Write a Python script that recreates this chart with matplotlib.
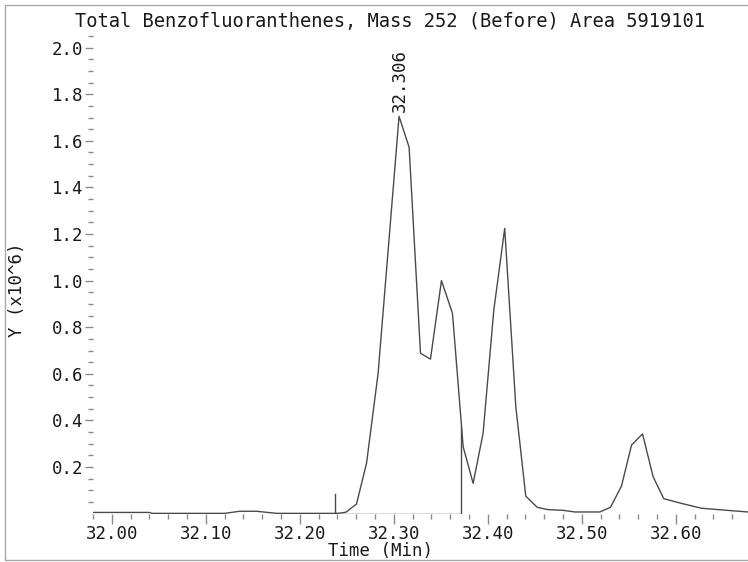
import matplotlib
matplotlib.use("Agg")
import matplotlib.pyplot as plt
from matplotlib.ticker import FixedLocator, MultipleLocator, FormatStrFormatter
from matplotlib.patches import Rectangle

# ---- data (time in min, signal in 1e6 counts) ----
time_min = [31.980, 32.040, 32.043, 32.120, 32.136, 32.154, 32.1755, 32.237,
            32.2426, 32.249, 32.2603, 32.2710, 32.2833, 32.3056, 32.3163,
            32.3284, 32.3390, 32.3507, 32.3624, 32.3738, 32.3844, 32.3950,
            32.4064, 32.4180, 32.4298, 32.4404, 32.4525, 32.4640, 32.4801,
            32.4926, 32.5191, 32.5305, 32.5422, 32.5529, 32.5646, 32.5759,
            32.5872, 32.6078, 32.6273, 32.6610, 32.6766]
signal = [0.005, 0.005, 0.001, 0.001, 0.010, 0.010, 0.001, 0.001,
          0.002, 0.006, 0.041, 0.216, 0.602, 1.705, 1.572,
          0.688, 0.663, 1.000, 0.860, 0.287, 0.130, 0.345,
          0.874, 1.224, 0.459, 0.075, 0.027, 0.017, 0.014,
          0.007, 0.007, 0.027, 0.118, 0.294, 0.342, 0.158,
          0.064, 0.042, 0.023, 0.012, 0.007]

# integration markers: start / end of integrated region
integ_start = 32.237
integ_start_height = 0.085
integ_end = 32.372
integ_end_height = 0.373

peak_time = 32.306
peak_value = 1.705
peak_label = "32.306"

title = "Total Benzofluoranthenes, Mass 252 (Before) Area 5919101"
xlabel = "Time (Min)"
ylabel = "Y (x10^6)"
x_major = [32.00, 32.10, 32.20, 32.30, 32.40, 32.50, 32.60]
y_major = [0.2, 0.4, 0.6, 0.8, 1.0, 1.2, 1.4, 1.6, 1.8, 2.0]

W, H = 748, 562
mono = "DejaVu Sans Mono"
fs = 13.5
fs_tick = 12.5
txt = "#1a1a1a"
grey = "#8a8a8a"
line_c = "#4a4a4a"

fig = plt.figure(figsize=(W / 100, H / 100), dpi=100)
ylim_top = 2.06
ax_left = 93 / W
ax_bottom = (H - 513.6) / H
ax_top_px = 513.6 - ylim_top * 233
ax = fig.add_axes([ax_left, ax_bottom, 1 - ax_left, (513.6 - ax_top_px) / H])

ax.plot(time_min, signal, color=line_c, lw=1.0)
ax.plot([integ_start, integ_start, integ_end, integ_end],
        [integ_start_height, 0, 0, integ_end_height], color=line_c, lw=1.0)

ax.text(peak_time, peak_value + 0.02, peak_label, rotation=90, ha="center",
        va="bottom", family=mono, fontsize=fs_tick, color=txt)

ax.set_xlim(31.98, 31.98 + (W - 93) / 940)
ax.set_ylim(0, ylim_top)

for s in ax.spines.values():
    s.set_visible(False)

ax.xaxis.set_major_locator(FixedLocator(x_major))
ax.xaxis.set_minor_locator(MultipleLocator(0.02))
ax.xaxis.set_major_formatter(FormatStrFormatter("%.2f"))
ax.yaxis.set_major_locator(FixedLocator(y_major))
ax.yaxis.set_minor_locator(FixedLocator([0.05 * k for k in range(1, 42)]))
ax.yaxis.set_major_formatter(FormatStrFormatter("%.1f"))

ax.tick_params(axis="both", which="both", direction="out", color=grey,
               width=1.0, labelcolor=txt, labelsize=fs_tick)
ax.tick_params(axis="x", which="major", length=7, pad=1)
ax.tick_params(axis="y", which="major", length=6, pad=1)
ax.tick_params(axis="both", which="minor", length=3.5)
for lab in ax.get_xticklabels() + ax.get_yticklabels():
    lab.set_family(mono)

fig.text(390 / W, 1 - 22 / H, title, ha="center", va="center",
         family=mono, fontsize=fs, color=txt)
fig.text(381 / W, 1 - 551 / H, xlabel, ha="center", va="center",
         family=mono, fontsize=fs_tick, color=txt)
fig.text(17 / W, 1 - 290 / H, ylabel, ha="center", va="center", rotation=90,
         family=mono, fontsize=fs_tick, color=txt)

fig.patches.append(Rectangle((5 / W, 2 / H), 1.0, 555 / H, transform=fig.transFigure,
                             fill=False, edgecolor="#a8a8a8", lw=1.0))

fig.savefig("out.png", dpi=100)
